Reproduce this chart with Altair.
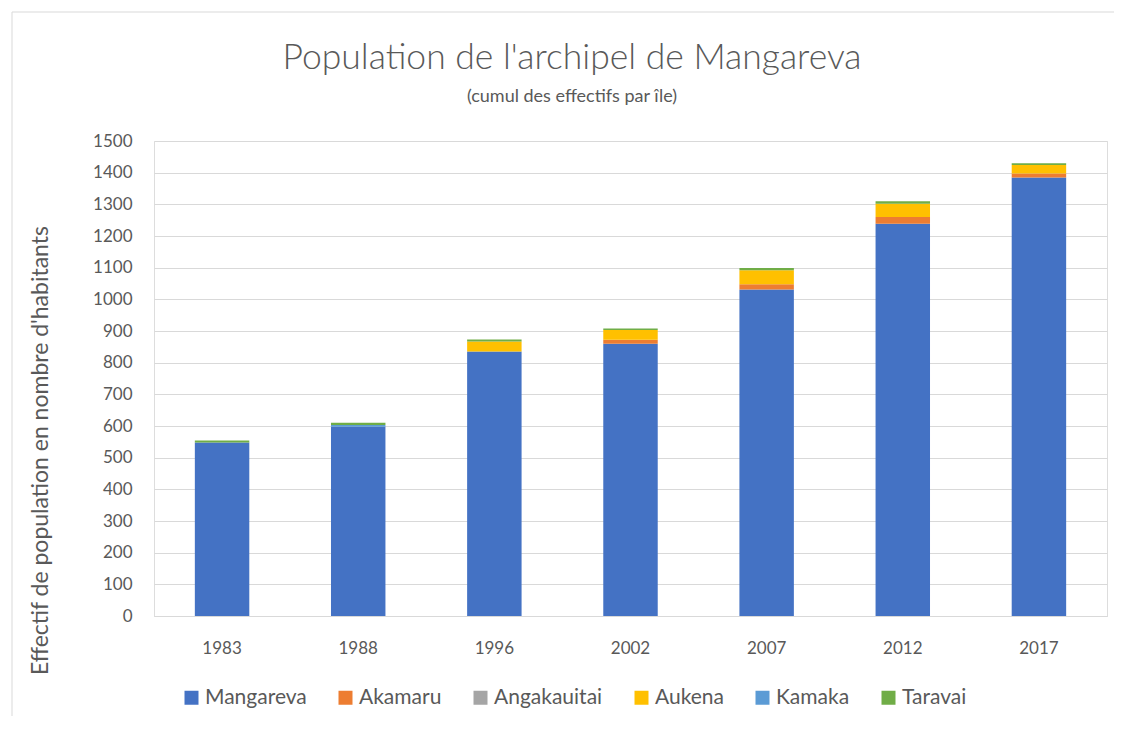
import altair as alt
import pandas as pd

years = ["1983", "1988", "1996", "2002", "2007", "2012", "2017"]
islands = ["Mangareva", "Akamaru", "Angakauitai", "Aukena", "Kamaka", "Taravai"]
colors = ["#4472C4", "#ED7D31", "#A5A5A5", "#FFC000", "#5B9BD5", "#70AD47"]

mangareva = [548, 598, 835, 860, 1031, 1239, 1385]
akamaru = [0, 0, 0, 12, 17, 21, 12]
angakauitai = [0, 0, 0, 0, 0, 0, 0]
aukena = [0, 0, 32, 31, 44, 42, 27]
kamaka = [0, 5, 0, 0, 0, 0, 0]
taravai = [6, 7, 6, 5, 7, 8, 6]

title_text = "Population de l'archipel de Mangareva"
subtitle_text = "(cumul des effectifs par île)"
y_title = "Effectif de population en nombre d'habitants"

series = [mangareva, akamaru, angakauitai, aukena, kamaka, taravai]
rows = []
for i, (name, vals) in enumerate(zip(islands, series)):
    for y, v in zip(years, vals):
        rows.append({"annee": y, "ile": name, "effectif": v, "ordre": i})
df = pd.DataFrame(rows)

FONT = "Lato"
GREY = "#595959"

bars = alt.Chart(df).mark_bar(stroke=None).encode(
    x=alt.X("annee:N", sort=years, title=None,
            scale=alt.Scale(paddingInner=0.6, paddingOuter=0.3),
            axis=alt.Axis(labelAngle=0, labelPadding=24, labelFontSize=17,
                          labelColor=GREY, labelFont=FONT, ticks=False,
                          domainColor="#d9d9d9", domainWidth=1)),
    y=alt.Y("effectif:Q", stack="zero",
            scale=alt.Scale(domain=[0, 1500]),
            title=y_title,
            axis=alt.Axis(values=list(range(0, 1501, 100)), format="d",
                          domain=False, ticks=False, labelPadding=22,
                          labelFontSize=17, labelColor=GREY, labelFont=FONT,
                          gridColor="#d9d9d9", gridWidth=1,
                          titleFont=FONT, titleFontSize=23, titleColor=GREY,
                          titleFontWeight="normal", titleX=-114, titleY=309,
                          titleBaseline="middle", titleAngle=270)),
    color=alt.Color("ile:N", sort=islands,
                    scale=alt.Scale(domain=islands, range=colors),
                    legend=alt.Legend(title=None, orient="none", direction="horizontal",
                                      columns=6, legendX=27, legendY=546,
                                      symbolType="square", symbolSize=196,
                                      symbolStrokeWidth=0, labelFontSize=21,
                                      labelFont=FONT, labelColor=GREY,
                                      columnPadding=28, labelOffset=3)),
    order=alt.Order("ordre:Q", sort="ascending"),
)

tdf = pd.DataFrame({"t": [title_text]})
sdf = pd.DataFrame({"t": [subtitle_text]})
title = alt.Chart(tdf).mark_text(font=FONT, fontSize=35.5, fontWeight=300, color=GREY,
                                 baseline="middle", align="center").encode(
    text="t:N", x=alt.value(418), y=alt.value(-83))
subtitle = alt.Chart(sdf).mark_text(font=FONT, fontSize=18, color=GREY,
                                    baseline="middle", align="center").encode(
    text="t:N", x=alt.value(418), y=alt.value(-44))

border_left = alt.Chart(tdf).mark_rule(color="#d9d9d9", strokeWidth=1).encode(
    x=alt.value(-142), y=alt.value(-129), y2=alt.value(620))
border_top = alt.Chart(tdf).mark_rule(color="#d9d9d9", strokeWidth=1).encode(
    x=alt.value(-142), x2=alt.value(990), y=alt.value(-129))

chart = alt.layer(border_left, border_top, title, subtitle, bars).properties(
    width=953, height=475,
    autosize=alt.AutoSizeParams(type="none"),
    padding={"left": 146, "top": 133, "right": 7, "bottom": 100},
).configure_view(stroke=None).configure(background="white")

chart.save("out.html", embed_options={"renderer": "svg", "actions": False})
